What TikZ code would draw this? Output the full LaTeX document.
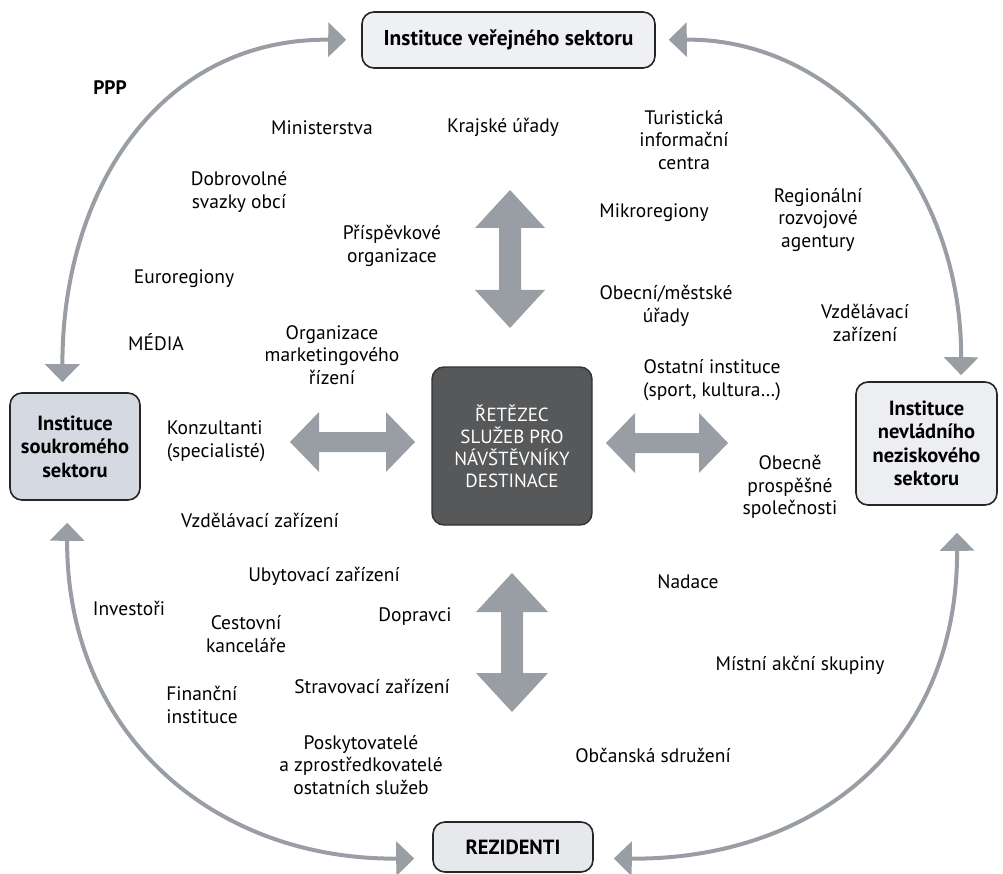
\documentclass[tikz,border=0pt]{standalone}
\usepackage{fontspec}
\setmainfont{PT Sans}
\usetikzlibrary{arrows.meta}

\definecolor{arrowgray}{RGB}{152,158,164}
\definecolor{chainfill}{RGB}{86,88,90}
\definecolor{pubfill}{RGB}{239,240,243}
\definecolor{privfill}{RGB}{212,217,226}
\definecolor{ngofill}{RGB}{236,238,241}
\definecolor{resfill}{RGB}{230,232,236}

\tikzset{
  pics/bigarrow/.style n args={4}{code={
    % #1 half length, #2 head length, #3 head half width, #4 shaft half width
    \fill[arrowgray] (-#1,0) -- (-#1+#2,-#3) -- (-#1+#2,-#4) -- (#1-#2,-#4)
      -- (#1-#2,-#3) -- (#1,0) -- (#1-#2,#3) -- (#1-#2,#4) -- (-#1+#2,#4)
      -- (-#1+#2,#3) -- cycle;
  }},
  lbl/.style={font=\fontsize{19.5}{22.5}\selectfont, align=center, inner sep=0pt},
  sector/.style={draw=black!85, line width=1.6pt, rounded corners=12pt,
    font=\bfseries\fontsize{20.5}{23.5}\selectfont, align=center, inner sep=0pt},
  chainbox/.style={draw=black!80, line width=1.4pt, fill=chainfill, rounded corners=12pt,
    text=white, font=\fontsize{19}{22}\selectfont, align=center, inner sep=0pt},
  link/.style={draw=arrowgray, line width=4pt,
    {Triangle[length=18pt,width=34pt]}-{Triangle[length=18pt,width=34pt]}},
}

\begin{document}
\begin{tikzpicture}[x=1pt,y=-1pt]
\useasboundingbox (0,0) rectangle (1003,874);

% sector boxes
\node[sector, fill=pubfill, minimum width=293pt, minimum height=56pt,
  font=\bfseries\fontsize{21.5}{24}\selectfont] (pub) at (508.5,40) {Instituce veřejného sektoru};
\node[sector, fill=privfill, minimum width=130pt, minimum height=107pt] (priv) at (75,446.5) {Instituce\\soukromého\\sektoru};
\node[sector, fill=ngofill, minimum width=141pt, minimum height=123pt] (ngo) at (926.5,443.5) {Instituce\\nevládního\\neziskového\\sektoru};
\node[sector, fill=resfill, minimum width=160pt, minimum height=50pt] (res) at (513,847) {REZIDENTI};

% central box
\node[chainbox, minimum width=160pt, minimum height=158pt] (chain) at (512,446) {ŘETĚZEC\\SLUŽEB PRO\\NÁVŠTĚVNÍKY\\DESTINACE};

% broad double arrows around the centre
\pic[rotate=90] at (510,259) {bigarrow={69}{38}{35}{11}};
\pic[rotate=90] at (512,642.5) {bigarrow={69.5}{39}{36}{11}};
\pic at (352.5,442) {bigarrow={62.5}{29}{30}{10}};
\pic at (667,443) {bigarrow={61}{29}{30}{10}};

% curved links between the sectors
\draw[link, shorten <=15pt, shorten >=10pt] (pub.west) .. controls (160,38) and (62,190) .. (priv.103);
\draw[link, shorten <=13pt, shorten >=6pt] (pub.east) .. controls (835,38) and (962,180) .. (ngo.61);
\draw[link, shorten <=22pt, shorten >=18pt] (priv.-98) .. controls (66,730) and (210,860) .. (res.188);
\draw[link, shorten <=27pt, shorten >=20pt] (ngo.-64) .. controls (958,750) and (810,860) .. (res.-8);

% labels
\node[lbl, font=\bfseries\fontsize{19.5}{22.5}\selectfont] (ppp) at (110,88) {PPP};
\node[lbl] (minist) at (322,128) {Ministerstva};
\node[lbl] (kraj) at (503,127) {Krajské úřady};
\node[lbl] (tic) at (684,140) {Turistická\\informační\\centra};
\node[lbl] (dso) at (239,192) {Dobrovolné\\svazky obcí};
\node[lbl] (mikro) at (654,213) {Mikroregiony};
\node[lbl] (rra) at (818,220) {Regionální\\rozvojové\\agentury};
\node[lbl] (prisp) at (392,246) {Příspěvkové\\organizace};
\node[lbl] (euro) at (184,279) {Euroregiony};
\node[lbl] (obec) at (666,306) {Obecní/městské\\úřady};
\node[lbl] (vzdr) at (865,323) {Vzdělávací\\zařízení};
\node[lbl] (media) at (156,342) {MÉDIA};
\node[lbl] (omr) at (332,355) {Organizace\\marketingového\\řízení};
\node[lbl] (ostat) at (712,380) {Ostatní instituce\\(sport, kultura…)};
\node[lbl, align=left] (konz) at (216,441) {Konzultanti\\(specialisté)};
\node[lbl] (ops) at (790,487) {Obecně\\prospěšné\\společnosti};
\node[lbl] (vzdl) at (260,520) {Vzdělávací zařízení};
\node[lbl] (ubyt) at (324,576) {Ubytovací zařízení};
\node[lbl] (invest) at (129,608) {Investoři};
\node[lbl] (dopr) at (415,617) {Dopravci};
\node[lbl] (ck) at (246,634) {Cestovní\\kanceláře};
\node[lbl] (strav) at (372,686) {Stravovací zařízení};
\node[lbl, align=left] (fin) at (202,705) {Finanční\\instituce};
\node[lbl] (posk) at (361,765) {Poskytovatelé\\a zprostředkovatelé\\ostatních služeb};
\node[lbl] (nadace) at (688,582) {Nadace};
\node[lbl] (mas) at (800,665) {Místní akční skupiny};
\node[lbl] (os) at (653,755) {Občanská sdružení};
\end{tikzpicture}
\end{document}
